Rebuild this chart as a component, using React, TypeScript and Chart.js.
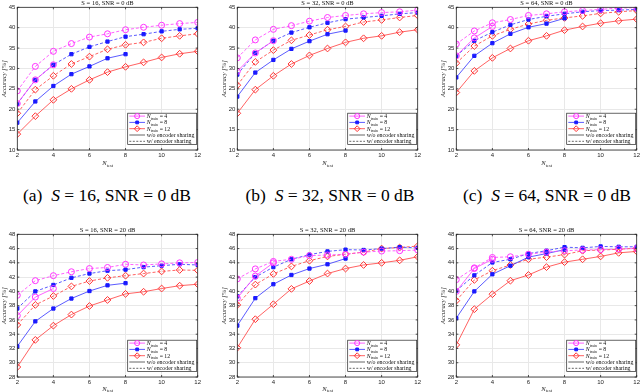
import React, { useEffect, useRef } from "react";
import { Chart, registerables } from "chart.js";
Chart.register(...registerables);

// ---------- data ----------
const nTest = [2, 3, 4, 5, 6, 7, 8, 9, 10, 11, 12];
const nTrain = [4, 8, 12];
const xTicks = [2, 4, 6, 8, 10, 12];
const yTicksTop = [10, 15, 20, 25, 30, 35, 40, 45];
const yTicksBottom = [28, 30, 32, 34, 36, 38, 40, 42, 44, 46, 48];

const panelTitles = [
  "S = 16, SNR = 0 dB",
  "S = 32, SNR = 0 dB",
  "S = 64, SNR = 0 dB",
  "S = 16, SNR = 20 dB",
  "S = 32, SNR = 20 dB",
  "S = 64, SNR = 20 dB",
];
const captionLetters = ["(a)", "(b)", "(c)"];
const captionS = ["16", "32", "64"];
const captionSNR = ["0 dB", "0 dB", "0 dB"];
const legendRest = ["w/o encoder sharing", "w/ encoder sharing"];

// (a) S=16, SNR=0
const a_n4_wo = [21.4, 27.2, 30.9];
const a_n4_w = [24.5, 30.5, 34.2, 36.1, 37.7, 38.5, 39.5, 40.1, 40.6, 41.0, 41.3];
const a_n8_wo = [16.7, 21.9, 25.7, 28.6, 30.5, 32.5, 33.5];
const a_n8_w = [21.3, 27.2, 30.9, 33.5, 35.3, 36.6, 37.8, 38.4, 39.1, 39.6, 39.85];
const a_n12_wo = [13.9, 18.3, 22.3, 25.0, 27.2, 29.1, 30.4, 31.5, 32.7, 33.6, 34.2];
const a_n12_w = [19.0, 24.8, 28.2, 31.1, 32.9, 34.7, 35.8, 36.4, 37.4, 38.0, 38.5];

// (b) S=32, SNR=0
const b_n4_wo = [29.3, 33.8, 36.8];
const b_n4_w = [32.6, 37.0, 39.6, 40.5, 41.6, 42.5, 43.0, 43.4, 43.7, 43.9, 44.3];
const b_n8_wo = [23.1, 29.0, 32.1, 34.8, 36.7, 38.4, 39.3];
const b_n8_w = [28.5, 33.8, 36.8, 38.8, 40.1, 41.2, 42.1, 42.5, 42.9, 43.4, 43.7];
const b_n12_wo = [19.0, 24.8, 28.2, 31.1, 33.2, 34.9, 36.4, 37.4, 38.0, 38.9, 39.5];
const b_n12_w = [25.9, 31.6, 34.5, 36.9, 38.2, 39.5, 40.3, 41.4, 41.9, 42.5, 43.0];

// (c) S=64, SNR=0
const c_n4_wo = [33.1, 37.5, 40.3];
const c_n4_w = [36.0, 39.2, 41.2, 42.0, 43.0, 43.4, 43.9, 44.2, 44.5, 44.8, 44.9];
const c_n8_wo = [27.8, 33.1, 36.2, 38.5, 40.1, 41.0, 42.3];
const c_n8_w = [33.1, 36.8, 38.9, 40.7, 42.0, 42.8, 43.4, 43.9, 44.2, 44.3, 44.5];
const c_n12_wo = [24.1, 29.4, 32.6, 34.9, 36.8, 38.0, 39.4, 40.3, 41.1, 41.7, 42.1];
const c_n12_w = [31.3, 35.5, 38.0, 39.6, 40.9, 41.8, 42.4, 42.9, 43.5, 43.9, 44.2];

// (d) S=16, SNR=20
const d_n4_wo = [36.6, 39.2, 40.4];
const d_n4_w = [39.45, 41.5, 42.2, 42.75, 43.2, 43.35, 43.8, 43.7, 43.85, 44.0, 44.05];
const d_n8_wo = [32.3, 35.8, 37.6, 39.0, 40.05, 40.85, 41.15];
const d_n8_w = [37.6, 40.0, 40.9, 41.9, 42.5, 42.9, 43.05, 43.4, 43.6, 43.8, 43.7];
const d_n12_wo = [29.4, 33.2, 35.2, 36.75, 37.95, 38.8, 39.65, 39.95, 40.4, 40.8, 41.0];
const d_n12_w = [35.3, 38.1, 39.35, 40.7, 41.45, 41.9, 42.2, 42.5, 42.8, 43.0, 42.95];

// (e) S=32, SNR=20
const e_n4_wo = [39.05, 42.15, 44.0];
const e_n4_w = [41.75, 43.15, 44.2, 44.5, 45.0, 45.1, 45.2, 45.5, 45.65, 45.7, 45.8];
const e_n8_wo = [35.2, 39.05, 41.0, 42.3, 43.2, 43.8, 44.6];
const e_n8_w = [39.3, 42.0, 43.4, 44.5, 45.15, 45.6, 45.85, 45.8, 46.0, 46.2, 46.1];
const e_n12_wo = [32.1, 36.1, 38.2, 40.35, 41.45, 42.5, 43.2, 43.7, 44.0, 44.35, 44.85];
const e_n12_w = [38.1, 40.95, 42.45, 43.5, 44.3, 44.9, 45.2, 45.5, 46.0, 46.15, 46.35];

// (f) S=64, SNR=20
const f_n4_wo = [40.0, 43.2, 44.5];
const f_n4_w = [41.65, 43.3, 44.75, 44.85, 45.2, 45.5, 45.7, 45.8, 45.85, 45.95, 46.0];
const f_n8_wo = [36.25, 40.0, 42.4, 43.6, 44.8, 45.3, 45.85];
const f_n8_w = [40.1, 42.25, 44.05, 44.5, 45.3, 45.7, 46.2, 46.1, 46.3, 46.25, 46.25];
const f_n12_wo = [32.5, 37.5, 39.6, 41.5, 42.3, 43.4, 44.1, 44.5, 44.9, 45.4, 45.6];
const f_n12_w = [38.7, 41.6, 42.9, 43.7, 44.5, 44.8, 45.15, 45.7, 45.8, 45.9, 46.05];

const panelSeries = [
  [a_n4_wo, a_n4_w, a_n8_wo, a_n8_w, a_n12_wo, a_n12_w],
  [b_n4_wo, b_n4_w, b_n8_wo, b_n8_w, b_n12_wo, b_n12_w],
  [c_n4_wo, c_n4_w, c_n8_wo, c_n8_w, c_n12_wo, c_n12_w],
  [d_n4_wo, d_n4_w, d_n8_wo, d_n8_w, d_n12_wo, d_n12_w],
  [e_n4_wo, e_n4_w, e_n8_wo, e_n8_w, e_n12_wo, e_n12_w],
  [f_n4_wo, f_n4_w, f_n8_wo, f_n8_w, f_n12_wo, f_n12_w],
];

// ---------- styles ----------
const SERIF = '"Liberation Serif", "DejaVu Serif", serif';
const SANS = '"Liberation Sans", "DejaVu Sans", sans-serif';
const lineColors = ["rgba(255,70,255,0.85)", "rgba(50,50,255,0.8)", "rgba(255,70,70,0.85)"];
const markerColors = ["#ff33ff", "#1a1aff", "#ff3333"];
const markerFills = ["rgba(255,255,255,0)", "#1a1aff", "rgba(255,255,255,0)"];
const markerStyles = ["circle", "rect", "rectRot"];
const markerRadius = [3, 2.3, 3.4];
const DASH = [3, 2];

const CANVAS_W = 205;
const CANVAS_H = 170;
const PAD_TOP = 7.3;
const PAD_RIGHT = 7.3;
const Y_AXIS_W = 17.3;
const X_AXIS_H = 20;
const panelPos = [
  { left: 0, top: 0 },
  { left: 220, top: 0 },
  { left: 439, top: 0 },
  { left: 0, top: 227 },
  { left: 220, top: 227 },
  { left: 439, top: 227 },
];
const captionCenters = [107, 330, 547];

function drawMarker(ctx: CanvasRenderingContext2D, style: string, x: number, y: number, r: number, stroke: string, fill: string) {
  ctx.beginPath();
  if (style === "circle") ctx.arc(x, y, r, 0, Math.PI * 2);
  else if (style === "rect") {
    const s = r / Math.SQRT2;
    ctx.rect(x - s, y - s, 2 * s, 2 * s);
  } else {
    ctx.moveTo(x, y - r);
    ctx.lineTo(x + r, y);
    ctx.lineTo(x, y + r);
    ctx.lineTo(x - r, y);
    ctx.closePath();
  }
  ctx.fillStyle = fill;
  ctx.fill();
  ctx.strokeStyle = stroke;
  ctx.lineWidth = 1;
  ctx.setLineDash([]);
  ctx.stroke();
}

function drawSubText(ctx: CanvasRenderingContext2D, x: number, y: number, main: string, sub: string, rest: string, size: number, align: string) {
  const fMain = `italic ${size}px ${SERIF}`;
  const fSub = `${(size * 0.68).toFixed(2)}px ${SERIF}`;
  const fRest = `${size}px ${SERIF}`;
  ctx.font = fMain;
  const w1 = ctx.measureText(main).width;
  ctx.font = fSub;
  const w2 = ctx.measureText(sub).width;
  ctx.font = fRest;
  const w3 = rest ? ctx.measureText(rest).width : 0;
  const sx = align === "center" ? x - (w1 + w2 + w3) / 2 : x;
  ctx.textAlign = "left";
  ctx.textBaseline = "alphabetic";
  ctx.font = fMain;
  ctx.fillText(main, sx, y);
  ctx.font = fSub;
  ctx.fillText(sub, sx + w1 + 0.2, y + size * 0.28);
  if (rest) {
    ctx.font = fRest;
    ctx.fillText(rest, sx + w1 + w2 + 0.4, y);
  }
}

const decorPlugin = {
  id: "decor",
  afterDraw(chart: any, _args: any, opts: any) {
    const ctx: CanvasRenderingContext2D = chart.ctx;
    const ca = chart.chartArea;
    const xs = chart.scales.x;
    const ys = chart.scales.y;
    ctx.save();
    // box
    ctx.strokeStyle = "#262626";
    ctx.lineWidth = 0.8;
    ctx.setLineDash([]);
    ctx.strokeRect(ca.left, ca.top, ca.right - ca.left, ca.bottom - ca.top);
    // inward ticks
    ctx.beginPath();
    ys.ticks.forEach((t: any) => {
      const p = ys.getPixelForValue(t.value);
      ctx.moveTo(ca.left, p);
      ctx.lineTo(ca.left + 2, p);
      ctx.moveTo(ca.right, p);
      ctx.lineTo(ca.right - 2, p);
    });
    xs.ticks.forEach((t: any) => {
      const p = xs.getPixelForValue(t.value);
      ctx.moveTo(p, ca.bottom);
      ctx.lineTo(p, ca.bottom - 2);
      ctx.moveTo(p, ca.top);
      ctx.lineTo(p, ca.top + 2);
    });
    ctx.stroke();
    // title
    ctx.fillStyle = "#111";
    ctx.font = `6.5px ${SERIF}`;
    ctx.textAlign = "center";
    ctx.textBaseline = "middle";
    ctx.fillText(opts.title, (ca.left + ca.right) / 2, ca.top - 4.2);
    // x axis title
    ctx.fillStyle = "#262626";
    drawSubText(ctx, (ca.left + ca.right) / 2, ca.bottom + opts.xTitleOffset, "N", "test", "", 6.5, "center");
    // legend
    const bw = 69;
    const bh = 31.3;
    const bx = ca.right - 1 - bw;
    const by = ca.bottom - 5.5 - bh;
    ctx.fillStyle = "#fff";
    ctx.fillRect(bx, by, bw, bh);
    ctx.strokeStyle = "#262626";
    ctx.lineWidth = 0.7;
    ctx.strokeRect(bx, by, bw, bh);
    for (let i = 0; i < 5; i++) {
      const ry = by + 2.9 + i * 6.3;
      const lx0 = bx + 1.6;
      const lx1 = bx + 17.3;
      ctx.beginPath();
      if (i < 3) {
        ctx.strokeStyle = lineColors[i];
        ctx.setLineDash([]);
      } else {
        ctx.strokeStyle = "#666";
        ctx.setLineDash(i === 4 ? [2, 1.5] : []);
      }
      ctx.lineWidth = 1;
      ctx.moveTo(lx0, ry);
      ctx.lineTo(lx1, ry);
      ctx.stroke();
      ctx.setLineDash([]);
      ctx.fillStyle = "#111";
      if (i < 3) {
        drawMarker(ctx, markerStyles[i], (lx0 + lx1) / 2, ry, markerRadius[i] * 0.85, markerColors[i], markerFills[i]);
        ctx.fillStyle = "#111";
        drawSubText(ctx, bx + 19, ry + 1.9, "N", "train", " = " + nTrain[i], 5.8, "left");
      } else {
        ctx.font = `5.9px ${SERIF}`;
        ctx.textAlign = "left";
        ctx.textBaseline = "alphabetic";
        ctx.fillText(legendRest[i - 3], bx + 19, ry + 1.9);
      }
    }
    ctx.restore();
  },
};

function Panel({ index }: { index: number }) {
  const ref = useRef<HTMLCanvasElement | null>(null);
  useEffect(() => {
    if (!ref.current) return;
    const series = panelSeries[index];
    const yt = index < 3 ? yTicksTop : yTicksBottom;
    const datasets: any[] = [];
    for (let k = 0; k < 3; k++) {
      for (let w = 0; w < 2; w++) {
        const vals = series[k * 2 + w];
        datasets.push({
          label: `N_train = ${nTrain[k]} ${w === 0 ? legendRest[0] : legendRest[1]}`,
          data: vals.map((v, i) => ({ x: nTest[i], y: v })),
          borderColor: lineColors[k],
          borderWidth: 1,
          borderDash: w === 1 ? DASH : [],
          pointStyle: markerStyles[k],
          pointRadius: markerRadius[k],
          pointBorderColor: markerColors[k],
          pointBackgroundColor: markerFills[k],
          pointBorderWidth: 1,
          tension: 0,
          fill: false,
        });
      }
    }
    const chart = new Chart(ref.current, {
      type: "line",
      data: { datasets },
      plugins: [decorPlugin as any],
      options: {
        animation: false,
        responsive: false,
        devicePixelRatio: 1,
        layout: { padding: { top: PAD_TOP, right: PAD_RIGHT, left: 0, bottom: 0 } },
        plugins: {
          legend: { display: false },
          title: { display: false },
          tooltip: { enabled: false },
          decor: { title: panelTitles[index], xTitleOffset: index < 3 ? 15 : 13.5 },
        } as any,
        scales: {
          x: {
            type: "linear",
            min: xTicks[0],
            max: xTicks[xTicks.length - 1],
            ticks: {
              stepSize: xTicks[1] - xTicks[0],
              font: { family: SANS, size: 6 },
              color: "#262626",
              padding: 1.5,
              maxRotation: 0,
            },
            grid: { color: "#e8e8e8", lineWidth: 1, drawTicks: false },
            border: { display: false },
            afterFit: (s: any) => {
              s.height = X_AXIS_H;
            },
          },
          y: {
            type: "linear",
            min: yt[0],
            max: yt[yt.length - 1],
            ticks: {
              stepSize: yt[1] - yt[0],
              font: { family: SANS, size: 6 },
              color: "#262626",
              padding: 2,
            },
            grid: { color: "#e8e8e8", lineWidth: 1, drawTicks: false },
            border: { display: false },
            title: {
              display: true,
              text: "Accuracy [%]",
              font: { family: SERIF, size: 6.5, style: "italic" },
              color: "#262626",
              padding: { top: 0, bottom: 0 },
            },
            afterFit: (s: any) => {
              s.width = Y_AXIS_W;
            },
          },
        },
      } as any,
    });
    return () => chart.destroy();
  }, [index]);
  const pos = panelPos[index];
  return (
    <canvas
      ref={ref}
      width={CANVAS_W}
      height={CANVAS_H}
      style={{ position: "absolute", left: pos.left, top: pos.top, width: CANVAS_W, height: CANVAS_H }}
    />
  );
}

export default function App() {
  return (
    <div
      style={{
        position: "fixed",
        left: 0,
        top: 0,
        width: 640,
        height: 392,
        overflow: "hidden",
        background: "#fff",
      }}
    >
      {[0, 1, 2, 3, 4, 5].map((i) => (
        <Panel key={i} index={i} />
      ))}
      {captionLetters.map((c, i) => (
        <div
          key={c}
          style={{
            position: "absolute",
            left: captionCenters[i] - 120,
            top: 186,
            width: 240,
            textAlign: "center",
            fontFamily: SERIF,
            fontSize: 17.5,
            lineHeight: "19px",
            color: "#000",
            whiteSpace: "nowrap",
          }}
        >
          {c}&nbsp;&nbsp;<i>S</i>&nbsp;=&nbsp;{captionS[i]}, SNR&nbsp;=&nbsp;{captionSNR[i]}
        </div>
      ))}
    </div>
  );
}
